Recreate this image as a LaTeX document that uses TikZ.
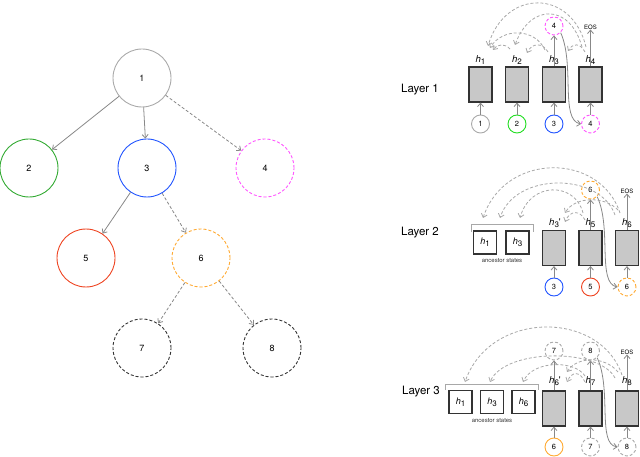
\documentclass[tikz,border=0pt]{standalone}
\usepackage{fontspec}
\setmainfont{TeX Gyre Heros}
\usetikzlibrary{arrows.meta}
\definecolor{cgray}{HTML}{AAAAAA}
\definecolor{cgreen}{HTML}{33AA33}
\definecolor{cgreenb}{HTML}{22DD22}
\definecolor{cblue}{HTML}{2255FF}
\definecolor{cmag}{HTML}{FF55FF}
\definecolor{cred}{HTML}{EE4422}
\definecolor{corange}{HTML}{FFAA33}
\definecolor{cdark}{HTML}{333333}
\definecolor{arrgray}{HTML}{888888}
\definecolor{arcgray}{HTML}{A8A8A8}
\definecolor{cellfill}{HTML}{C8C8C8}
\definecolor{cellborder}{HTML}{333333}
\newcommand{\hlab}[1]{\textit{h}\raisebox{-0.45ex}{\fontsize{8}{9}\selectfont #1}}
\begin{document}
\begin{tikzpicture}[x=1pt,y=-1pt,
  tn/.style={circle,draw,line width=0.9pt,minimum size=58pt,inner sep=0pt,font=\fontsize{9}{10}\selectfont},
  sn/.style={circle,draw,line width=0.9pt,minimum size=18pt,inner sep=0pt,font=\fontsize{7.5}{8}\selectfont},
  dsh/.style={dash pattern=on 3pt off 2pt},
  cell/.style={draw=cellborder,fill=cellfill,line width=1.1pt,minimum width=23pt,minimum height=35pt,inner sep=0pt},
  anc/.style={draw=cellborder,fill=white,line width=1.1pt,minimum width=23pt,minimum height=23pt,inner sep=0pt,font=\fontsize{9}{10}\selectfont},
  hl/.style={inner sep=0pt,font=\fontsize{9.5}{10}\selectfont},
  eos/.style={inner sep=0pt,font=\fontsize{6}{7}\selectfont},
  lay/.style={inner sep=0pt,font=\fontsize{11.5}{12}\selectfont},
  anct/.style={inner sep=0pt,font=\fontsize{6}{7}\selectfont,text=cdark},
  tip/.style={-{Straight Barb[length=3.5pt,width=6pt]}},
  arr/.style={draw=arrgray,line width=0.8pt,tip},
  arc/.style={draw=arcgray,line width=0.8pt,dash pattern=on 3pt off 2pt,tip},
  brk/.style={draw=arcgray,line width=0.9pt}
]
\useasboundingbox (0,0) rectangle (640,457);

% ---------------- tree ----------------
\node[tn,draw=cgray] (n1) at (142,78) {1};
\node[tn,draw=cgreen] (n2) at (29,168) {2};
\node[tn,draw=cblue] (n3) at (147,168) {3};
\node[tn,draw=cmag,dsh] (n4) at (265,168) {4};
\node[tn,draw=cred] (n5) at (86,258) {5};
\node[tn,draw=corange,dsh] (n6) at (201,258) {6};
\node[tn,draw=cdark,dsh] (n7) at (142,348) {7};
\node[tn,draw=cdark,dsh] (n8) at (272,348) {8};
\draw[arr] (n1) -- (n2);
\draw[arr] (n1) -- (n3);
\draw[arr,dsh] (n1) -- (n4);
\draw[arr] (n3) -- (n5);
\draw[arr,dsh] (n3) -- (n6);
\draw[arr,dsh] (n6) -- (n7);
\draw[arr,dsh] (n6) -- (n8);

% ---------------- Layer 1 ----------------
\node[lay] (lay1) at (420,90) {Layer 1};
\node[cell] (b11) at (480.5,84.5) {};
\node[cell] (b12) at (517,84.5) {};
\node[cell] (b13) at (554,84.5) {};
\node[cell] (b14) at (590.5,84.5) {};
\node[hl] (h11) at (480.5,60) {\hlab{1}};
\node[hl] (h12) at (517,60) {\hlab{2}};
\node[hl] (h13) at (554,60) {\hlab{3}};
\node[hl] (h14) at (590.5,60) {\hlab{4}};
\node[sn,draw=cgray] (i11) at (480.5,124) {1};
\node[sn,draw=cgreenb] (i12) at (517,124) {2};
\node[sn,draw=cblue] (i13) at (554,124) {3};
\node[sn,draw=cmag,dsh] (i14) at (590.5,124) {4};
\node[sn,draw=cmag,dsh] (o14) at (554,26) {4};
\node[eos] (eos1) at (590.5,27) {EOS};
\foreach \k in {1,2,3,4}{\draw[arr] (i1\k) -- (b1\k.south);}
\draw[arr] (b13.north) -- (o14.south);
\draw[arr] (b14.north) -- (eos1.south);
\draw[arr] (o14.south east) .. controls (575,65) and (560,120) .. (i14.west);
\coordinate (a1s) at (586,47); \coordinate (a1e) at (488,46);
\coordinate (b1s) at (582,47); \coordinate (b1e) at (515,45);
\coordinate (c1s) at (545,50); \coordinate (c1e) at (490,48);
\coordinate (d1s) at (548,52); \coordinate (d1e) at (527,53);
\coordinate (e1s) at (585,52); \coordinate (e1e) at (568,51);
\coordinate (f1s) at (510,49); \coordinate (f1e) at (493,50);
\draw[arc] (a1s) .. controls (572,-11.5) and (505,-11.5) .. (a1e);
\draw[arc] (b1s) .. controls (570,3.3) and (530,3.3) .. (b1e);
\draw[arc] (c1s) .. controls (535,27.7) and (502,27.7) .. (c1e);
\draw[arc] (d1s) .. controls (543,42.5) and (532,42.5) .. (d1e);
\draw[arc] (e1s) .. controls (580,42.8) and (573,42.8) .. (e1e);
\draw[arc] (f1s) .. controls (505,43.5) and (498,43.5) .. (f1e);

% ---------------- Layer 2 ----------------
\node[lay] (lay2) at (420,233) {Layer 2};
\draw[brk] (471,232) -- (471,224) -- (533,224) -- (533,232);
\node[anc] (a21) at (485,242.5) {\hlab{1}};
\node[anc] (a23) at (517.5,242.5) {\hlab{3}};
\node[anct] (at2) at (502,261) {ancestor states};
\node[cell] (b23) at (554,248) {};
\node[cell] (b25) at (590.5,248) {};
\node[cell] (b26) at (627,248) {};
\node[hl] (h23) at (555,223) {\hlab{3}\textquotesingle};
\node[hl] (h25) at (590.5,223) {\hlab{5}};
\node[hl] (h26) at (627,223) {\hlab{6}};
\node[sn,draw=cblue] (i23) at (554,287) {3};
\node[sn,draw=cred] (i25) at (590.5,287) {5};
\node[sn,draw=corange,dsh] (i26) at (627,287) {6};
\node[sn,draw=corange,dsh] (o26) at (590.5,190) {6};
\node[eos] (eos2) at (627,191) {EOS};
\foreach \k in {3,5,6}{\draw[arr] (i2\k) -- (b2\k.south);}
\draw[arr] (b25.north) -- (o26.south);
\draw[arr] (b26.north) -- (eos2.south);
\draw[arr] (o26.south east) .. controls (612,228) and (597,283) .. (i26.west);
\coordinate (a2s) at (620,213); \coordinate (a2e) at (483,218);
\coordinate (b2s) at (615,215); \coordinate (b2e) at (500,218);
\coordinate (c2s) at (583,213); \coordinate (c2e) at (520,218);
\coordinate (d2s) at (618,210); \coordinate (d2e) at (565,213);
\coordinate (e2s) at (585,220); \coordinate (e2e) at (565,222);
\draw[arc] (a2s) .. controls (600,152) and (505,152) .. (a2e);
\draw[arc] (b2s) .. controls (600,172) and (515,172) .. (b2e);
\draw[arc] (c2s) .. controls (575,181.5) and (530,181.5) .. (c2e);
\draw[arc] (d2s) .. controls (605,196) and (575,196) .. (d2e);
\draw[arc] (e2s) .. controls (580,210) and (570,210) .. (e2e);

% ---------------- Layer 3 ----------------
\node[lay] (lay3) at (421,392) {Layer 3};
\draw[brk] (445,390) -- (445,384) -- (538,384) -- (538,390);
\node[anc] (a31) at (460.5,402) {\hlab{1}};
\node[anc] (a33) at (492,402) {\hlab{3}};
\node[anc] (a36) at (523.5,402) {\hlab{6}};
\node[anct] (at3) at (492,421) {ancestor states};
\node[cell] (b36) at (554,408.5) {};
\node[cell] (b37) at (590.5,408.5) {};
\node[cell] (b38) at (627,408.5) {};
\node[hl] (h36) at (555,381) {\hlab{6}\textquotesingle};
\node[hl] (h37) at (590.5,381) {\hlab{7}};
\node[hl] (h38) at (627,381) {\hlab{8}};
\node[sn,draw=corange] (i36) at (554,447) {6};
\node[sn,draw=cgray,dsh] (i37) at (590.5,447) {7};
\node[sn,draw=cgray,dsh] (i38) at (627,447) {8};
\node[sn,draw=cgray,dsh] (o37) at (554,351) {7};
\node[sn,draw=cgray,dsh] (o38) at (590.5,351) {8};
\node[eos] (eos3) at (627,352) {EOS};
\foreach \k in {6,7,8}{\draw[arr] (i3\k) -- (b3\k.south);}
\draw[arr] (b36.north) -- (o37.south);
\draw[arr] (b37.north) -- (o38.south);
\draw[arr] (b38.north) -- (eos3.south);
\draw[arr] (o38.south east) .. controls (612,390) and (597,444) .. (i38.west);
\coordinate (a3s) at (622,375); \coordinate (a3e) at (465,382);
\coordinate (b3s) at (615,378); \coordinate (b3e) at (490,382);
\coordinate (c3s) at (585,376); \coordinate (c3e) at (523,382);
\coordinate (d3s) at (618,372); \coordinate (d3e) at (567,372);
\coordinate (e3s) at (585,382); \coordinate (e3e) at (567,382);
\draw[arc] (a3s) .. controls (600,310) and (490,310) .. (a3e);
\draw[arc] (b3s) .. controls (600,348) and (505,348) .. (b3e);
\draw[arc] (c3s) .. controls (575,360) and (533,360) .. (c3e);
\draw[arc] (d3s) .. controls (605,356) and (577,356) .. (d3e);
\draw[arc] (e3s) .. controls (580,371) and (572,371) .. (e3e);
\end{tikzpicture}
\end{document}
